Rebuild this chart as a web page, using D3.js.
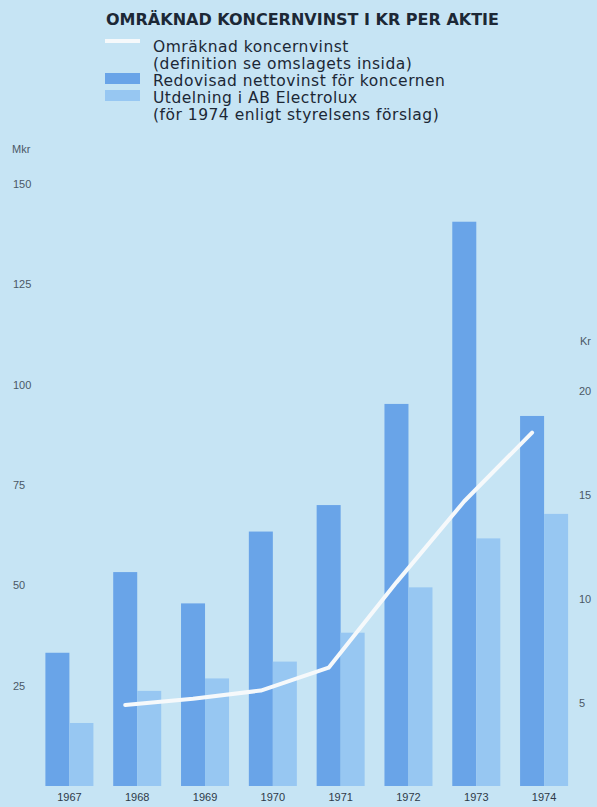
<!DOCTYPE html>
<html>
<head>
<meta charset="utf-8">
<script src="https://cdn.jsdelivr.net/npm/d3@7"></script>
<style>
  html, body { margin: 0; padding: 0; background: #c6e4f4; }
  svg { display: block; }
</style>
</head>
<body>
<div id="chart"></div>
<script>
// data
var years = ["1967", "1968", "1969", "1970", "1971", "1972", "1973", "1974"];
var nettovinst = [33.2, 53.3, 45.5, 63.4, 70.0, 95.2, 140.6, 92.2];   // Mkr
var utdelning = [15.7, 23.7, 26.8, 31.0, 38.2, 49.5, 61.7, 67.8];     // Mkr
var vinstPerAktie = [null, 4.9, 5.2, 5.6, 6.7, 10.8, 14.7, 18.0];     // Kr
var mkrTicks = [25, 50, 75, 100, 125, 150];
var krTicks = [5, 10, 15, 20];
var legendLines = [
    "Omräknad koncernvinst",
    "(definition se omslagets insida)",
    "Redovisad nettovinst för koncernen",
    "Utdelning i AB Electrolux",
    "(för 1974 enligt styrelsens förslag)"
];

var width = 597, height = 807;
var dark = "#69a4e8", light = "#97c7f2", ink = "#1c2836", grey = "#4b5866";

var svg = d3.select("#chart").append("svg")
    .attr("width", width).attr("height", height);

svg.append("rect").attr("width", width).attr("height", height).attr("fill", "#c6e4f4");

var x = d3.scaleBand().domain(years)
    .range([35.5, 578])
    .paddingInner(0.292)
    .paddingOuter(0.146);

var xInner = d3.scaleBand().domain(["netto", "utd"])
    .range([0, x.bandwidth()]);

var y = d3.scaleLinear().domain([0, 150]).range([786, 184]);
var yKr = d3.scaleLinear().domain([0, 20]).range([807, 391]);

// bars
var groups = svg.append("g").selectAll("g")
    .data(years)
    .join("g")
    .attr("transform", d => "translate(" + x(d) + ",0)");

groups.append("rect")
    .attr("x", xInner("netto"))
    .attr("width", xInner.bandwidth())
    .attr("y", (d, i) => y(nettovinst[i]))
    .attr("height", (d, i) => y(0) - y(nettovinst[i]))
    .attr("fill", dark);

groups.append("rect")
    .attr("x", xInner("utd"))
    .attr("width", xInner.bandwidth())
    .attr("y", (d, i) => y(utdelning[i]))
    .attr("height", (d, i) => y(0) - y(utdelning[i]))
    .attr("fill", light);

// white line, per share
var line = d3.line()
    .defined(d => d[1] != null)
    .x(d => x(d[0]) + xInner("netto") + xInner.bandwidth() / 2)
    .y(d => yKr(d[1]));

svg.append("path")
    .datum(years.map((d, i) => [d, vinstPerAktie[i]]))
    .attr("d", line)
    .attr("fill", "none")
    .attr("stroke", "#f6f9fb")
    .attr("stroke-width", 4)
    .attr("stroke-linecap", "round")
    .attr("stroke-linejoin", "round");

// axes
var leftAxis = svg.append("g")
    .attr("transform", "translate(13,0)")
    .call(d3.axisRight(y).tickValues(mkrTicks).tickSize(0).tickPadding(0));

var rightAxis = svg.append("g")
    .attr("transform", "translate(579,0)")
    .call(d3.axisRight(yKr).tickValues(krTicks).tickSize(0).tickPadding(0));

var bottomAxis = svg.append("g")
    .attr("transform", "translate(0," + y(0) + ")")
    .call(d3.axisBottom(x).tickSize(0).tickPadding(7));

[leftAxis, rightAxis, bottomAxis].forEach(function(a){
    a.select(".domain").remove();
    a.selectAll("text")
        .attr("font-family", "Liberation Sans, Arial, sans-serif")
        .attr("font-size", 11)
        .attr("fill", grey);
});
bottomAxis.selectAll("text").attr("font-size", 11).attr("fill", "#2e3a48");

svg.append("text").attr("x", 12).attr("y", 153)
    .attr("font-family", "Liberation Sans, Arial, sans-serif")
    .attr("font-size", 11).attr("fill", grey).text("Mkr");

svg.append("text").attr("x", 580).attr("y", 345)
    .attr("font-family", "Liberation Sans, Arial, sans-serif")
    .attr("font-size", 11).attr("fill", grey).text("Kr");

// title and legend
svg.append("text")
    .attr("x", 106).attr("y", 25)
    .attr("font-family", "DejaVu Sans, sans-serif")
    .attr("font-weight", "bold")
    .attr("font-size", 16)
    .attr("fill", ink)
    .text("OMRÄKNAD KONCERNVINST I KR PER AKTIE");

svg.append("g").selectAll("text")
    .data(legendLines)
    .join("text")
    .attr("x", 153)
    .attr("y", (d, i) => 52 + i * 17)
    .attr("font-family", "DejaVu Sans, sans-serif")
    .attr("font-size", 15.5)
    .attr("letter-spacing", 0.5)
    .attr("fill", ink)
    .text(d => d);

svg.append("line")
    .attr("x1", 105).attr("x2", 140)
    .attr("y1", 41).attr("y2", 41)
    .attr("stroke", "#f6f9fb").attr("stroke-width", 4);

svg.append("rect").attr("x", 105).attr("y", 73).attr("width", 35).attr("height", 11).attr("fill", dark);
svg.append("rect").attr("x", 105).attr("y", 90).attr("width", 35).attr("height", 11).attr("fill", light);
</script>
</body>
</html>
